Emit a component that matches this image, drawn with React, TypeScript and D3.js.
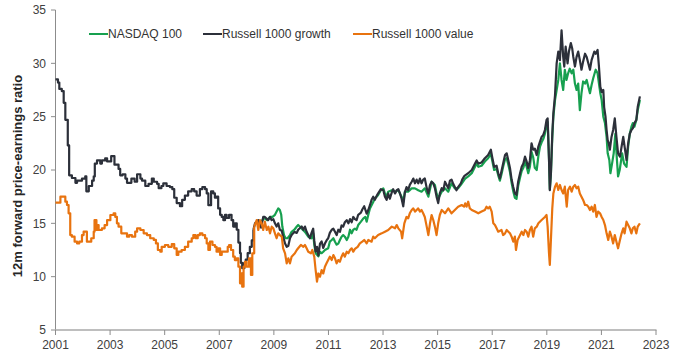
import React from "react";
import * as d3 from "d3";

const yTicks = [5, 10, 15, 20, 25, 30, 35];
const xTicks = [2001, 2003, 2005, 2007, 2009, 2011, 2013, 2015, 2017, 2019, 2021, 2023];
const seriesNames = ["NASDAQ 100", "Russell 1000 growth", "Russell 1000 value"];
const yTitle = "12m forward price-earnings ratio";

const growthData: [number, number][] = [
  [2001.00,28.5],[2001.09,28.2],[2001.14,27.6],[2001.23,27.4],[2001.30,26.3],[2001.36,24.7],[2001.45,22.3],[2001.50,19.5],[2001.60,19.25],[2001.73,18.8],[2001.79,19.0],[2001.97,19.2],[2002.09,19.4],[2002.13,18.0],[2002.22,18.5],[2002.34,19.0],[2002.40,19.4],[2002.44,20.6],[2002.52,20.9],[2002.64,20.6],[2002.70,20.9],[2002.82,21.1],[2002.89,20.8],[2003.04,21.3],[2003.16,20.5],[2003.31,20.1],[2003.37,19.5],[2003.46,19.6],[2003.56,19.2],[2003.62,18.8],[2003.78,19.2],[2003.90,18.9],[2003.99,19.6],[2004.11,19.2],[2004.17,19.0],[2004.29,18.5],[2004.41,18.7],[2004.53,19.2],[2004.60,18.9],[2004.72,18.7],[2004.78,18.3],[2004.88,18.5],[2004.95,18.75],[2005.07,18.5],[2005.19,18.4],[2005.28,18.2],[2005.35,17.4],[2005.44,16.9],[2005.56,16.6],[2005.64,17.2],[2005.74,17.6],[2005.86,18.0],[2005.99,18.2],[2006.08,18.0],[2006.17,17.6],[2006.29,18.2],[2006.38,18.4],[2006.48,18.2],[2006.54,17.8],[2006.60,16.7],[2006.70,18.0],[2006.78,17.8],[2006.84,17.4],[2006.90,17.5],[2006.96,16.4],[2007.03,15.8],[2007.09,15.6],[2007.15,15.3],[2007.21,15.8],[2007.27,15.5],[2007.36,15.8],[2007.45,15.3],[2007.51,14.7],[2007.57,15.0],[2007.64,14.4],[2007.70,13.2],[2007.76,12.2],[2007.79,11.3],[2007.84,10.8],[2007.92,11.3],[2007.97,11.6],[2008.04,12.2],[2008.12,12.8],[2008.19,13.4],[2008.25,14.4],[2008.31,15.0],[2008.43,15.3],[2008.53,14.6],[2008.61,15.6],[2008.67,15.6],[2008.79,15.3],[2008.86,15.6],[2008.92,15.3],[2008.98,15.4],[2009.04,15.0],[2009.10,14.7],[2009.16,15.0],[2009.22,14.4],[2009.29,14.3],[2009.34,13.75],[2009.41,13.1],[2009.47,12.8],[2009.53,12.9],[2009.59,13.6],[2009.65,13.9],[2009.75,14.2],[2009.84,14.1],[2009.89,14.4],[2010.02,14.7],[2010.08,14.4],[2010.14,14.7],[2010.20,14.2],[2010.26,13.9],[2010.32,13.6],[2010.38,14.1],[2010.44,14.5],[2010.48,13.4],[2010.53,12.35],[2010.58,12.8],[2010.63,12.0],[2010.69,13.1],[2010.75,13.3],[2010.81,12.7],[2010.87,13.1],[2010.93,13.4],[2010.99,13.6],[2011.05,14.1],[2011.12,14.4],[2011.18,14.5],[2011.24,14.2],[2011.30,13.9],[2011.36,14.4],[2011.42,14.2],[2011.48,14.8],[2011.54,14.7],[2011.60,15.1],[2011.67,15.3],[2011.73,15.0],[2011.79,15.4],[2011.85,15.1],[2011.91,15.6],[2011.97,15.4],[2012.03,15.3],[2012.09,15.8],[2012.19,16.0],[2012.24,16.3],[2012.31,16.6],[2012.40,15.9],[2012.46,16.25],[2012.52,16.7],[2012.58,17.2],[2012.64,17.5],[2012.70,17.2],[2012.77,17.6],[2012.82,17.8],[2012.92,18.2],[2013.01,18.1],[2013.07,17.5],[2013.13,17.2],[2013.19,17.8],[2013.25,17.3],[2013.32,17.9],[2013.37,18.2],[2013.44,17.8],[2013.50,18.1],[2013.56,18.2],[2013.62,17.8],[2013.68,17.3],[2013.74,16.6],[2013.80,17.9],[2013.86,18.4],[2013.92,18.1],[2013.98,18.6],[2014.05,18.9],[2014.11,19.2],[2014.17,18.75],[2014.23,19.1],[2014.29,18.75],[2014.35,19.2],[2014.41,18.75],[2014.47,19.1],[2014.53,19.2],[2014.60,18.3],[2014.66,17.8],[2014.72,18.6],[2014.78,18.9],[2014.84,18.75],[2014.90,18.3],[2014.96,17.5],[2015.02,16.9],[2015.08,17.8],[2015.15,18.3],[2015.21,18.1],[2015.27,18.9],[2015.33,18.6],[2015.39,18.3],[2015.45,19.0],[2015.51,19.1],[2015.57,18.7],[2015.63,18.4],[2015.69,18.1],[2015.75,18.4],[2015.85,18.75],[2015.90,19.1],[2015.97,19.4],[2016.01,19.5],[2016.12,19.7],[2016.25,20.0],[2016.37,20.6],[2016.43,20.9],[2016.49,20.6],[2016.61,20.7],[2016.73,21.1],[2016.85,21.4],[2016.95,21.9],[2017.00,21.2],[2017.07,20.3],[2017.16,20.4],[2017.22,19.7],[2017.28,19.2],[2017.34,19.9],[2017.40,20.6],[2017.47,21.4],[2017.53,21.56],[2017.59,20.9],[2017.65,20.2],[2017.71,19.1],[2017.77,18.4],[2017.83,17.8],[2017.89,17.66],[2017.95,18.9],[2018.02,19.7],[2018.08,20.3],[2018.14,20.6],[2018.20,21.25],[2018.26,20.8],[2018.32,20.2],[2018.38,20.9],[2018.44,22.5],[2018.50,21.9],[2018.56,22.0],[2018.63,21.4],[2018.69,22.2],[2018.75,22.66],[2018.81,23.1],[2018.87,23.3],[2018.93,23.75],[2018.99,24.7],[2019.03,24.84],[2019.08,21.0],[2019.11,18.1],[2019.15,19.7],[2019.20,23.4],[2019.24,25.3],[2019.30,27.0],[2019.36,30.0],[2019.42,31.1],[2019.48,30.3],[2019.54,33.1],[2019.60,30.6],[2019.64,29.7],[2019.69,31.56],[2019.76,30.0],[2019.81,31.1],[2019.88,31.9],[2019.93,31.4],[2019.97,30.6],[2020.03,29.7],[2020.09,30.6],[2020.15,31.1],[2020.21,30.3],[2020.27,29.4],[2020.33,30.16],[2020.40,30.9],[2020.46,30.6],[2020.52,30.0],[2020.58,29.4],[2020.64,30.3],[2020.74,31.1],[2020.79,30.9],[2020.86,31.25],[2020.91,29.7],[2020.96,27.8],[2021.01,27.3],[2021.07,27.5],[2021.10,25.9],[2021.15,25.0],[2021.19,23.75],[2021.23,22.8],[2021.27,22.5],[2021.31,21.9],[2021.37,23.1],[2021.43,23.75],[2021.49,24.84],[2021.55,23.1],[2021.61,21.56],[2021.68,21.25],[2021.74,22.2],[2021.80,23.1],[2021.85,22.2],[2021.92,20.94],[2021.98,22.5],[2022.04,23.4],[2022.10,23.75],[2022.15,23.9],[2022.21,24.4],[2022.28,24.7],[2022.33,25.9],[2022.41,26.9]
];

const nasdaqData: [number, number][] = [
  [2008.55,15.2],[2008.65,15.5],[2008.75,15.3],[2008.86,15.6],[2008.95,15.6],[2009.04,15.8],[2009.10,16.1],[2009.16,16.4],[2009.22,16.25],[2009.27,15.8],[2009.31,14.7],[2009.37,13.9],[2009.43,13.6],[2009.50,13.6],[2009.59,13.9],[2009.65,14.2],[2009.75,14.4],[2009.84,14.7],[2009.89,14.84],[2009.95,14.7],[2010.02,14.5],[2010.14,14.2],[2010.26,13.75],[2010.38,13.6],[2010.44,14.06],[2010.48,13.0],[2010.53,12.2],[2010.63,11.9],[2010.69,12.34],[2010.75,12.2],[2010.81,12.34],[2010.87,12.5],[2010.99,12.66],[2011.05,13.28],[2011.12,13.44],[2011.18,13.6],[2011.24,13.28],[2011.30,13.0],[2011.36,13.1],[2011.42,13.44],[2011.48,13.75],[2011.54,13.9],[2011.60,13.75],[2011.67,13.44],[2011.73,13.75],[2011.79,14.4],[2011.85,14.06],[2011.91,14.4],[2011.97,14.5],[2012.03,14.4],[2012.09,14.84],[2012.19,15.16],[2012.28,15.47],[2012.35,15.6],[2012.40,15.16],[2012.46,15.8],[2012.52,16.4],[2012.58,16.7],[2012.64,17.0],[2012.70,17.34],[2012.77,17.5],[2012.82,17.66],[2012.92,18.1],[2013.01,18.28],[2013.07,17.8],[2013.13,17.5],[2013.19,17.97],[2013.32,18.1],[2013.44,17.97],[2013.56,18.1],[2013.68,17.5],[2013.74,17.0],[2013.80,17.97],[2013.92,17.97],[2013.98,18.1],[2014.05,18.28],[2014.17,18.28],[2014.29,18.1],[2014.41,17.97],[2014.53,18.28],[2014.66,17.5],[2014.78,18.9],[2014.90,18.6],[2014.96,17.8],[2015.02,17.34],[2015.15,17.97],[2015.27,18.28],[2015.39,17.97],[2015.51,18.75],[2015.63,18.28],[2015.75,18.28],[2015.85,18.6],[2015.97,19.06],[2016.01,19.2],[2016.12,19.4],[2016.25,19.7],[2016.37,20.3],[2016.43,20.6],[2016.49,20.3],[2016.61,20.4],[2016.73,20.8],[2016.85,21.1],[2016.95,21.5],[2017.00,20.9],[2017.07,20.0],[2017.16,20.1],[2017.22,19.5],[2017.28,19.0],[2017.34,19.6],[2017.40,20.3],[2017.47,21.0],[2017.53,21.1],[2017.59,20.5],[2017.65,19.8],[2017.71,18.8],[2017.77,18.0],[2017.83,17.4],[2017.89,17.3],[2017.95,18.5],[2018.02,19.3],[2018.08,19.9],[2018.14,20.2],[2018.20,20.8],[2018.26,20.3],[2018.32,19.7],[2018.38,20.3],[2018.44,21.7],[2018.50,21.2],[2018.56,20.2],[2018.63,20.0],[2018.69,21.3],[2018.75,22.2],[2018.81,22.6],[2018.87,22.9],[2018.93,23.4],[2018.99,24.3],[2019.03,24.5],[2019.08,21.0],[2019.11,18.2],[2019.15,19.6],[2019.20,23.0],[2019.24,25.0],[2019.30,26.56],[2019.42,28.44],[2019.48,30.0],[2019.54,28.44],[2019.60,27.5],[2019.66,29.4],[2019.72,28.44],[2019.78,29.06],[2019.84,29.5],[2019.91,29.06],[2019.97,29.4],[2020.03,28.1],[2020.09,27.5],[2020.15,28.1],[2020.21,25.6],[2020.27,27.2],[2020.33,28.3],[2020.40,28.1],[2020.46,28.44],[2020.52,27.8],[2020.58,27.2],[2020.64,27.97],[2020.70,28.6],[2020.79,29.4],[2020.86,29.06],[2020.91,28.1],[2020.96,27.2],[2021.01,26.56],[2021.07,25.0],[2021.13,24.4],[2021.19,23.1],[2021.23,21.56],[2021.29,20.94],[2021.33,19.7],[2021.39,20.6],[2021.45,21.56],[2021.51,23.4],[2021.57,20.9],[2021.61,19.4],[2021.67,20.0],[2021.76,21.56],[2021.83,20.6],[2021.92,20.3],[2021.98,22.2],[2022.04,23.4],[2022.10,24.06],[2022.15,24.4],[2022.21,24.06],[2022.28,24.7],[2022.33,25.6],[2022.41,26.56]
];

const valueData: [number, number][] = [
  [2001.00,16.94],[2001.18,17.5],[2001.30,17.5],[2001.36,17.03],[2001.42,16.72],[2001.48,15.94],[2001.54,13.9],[2001.60,13.75],[2001.70,13.28],[2001.79,13.12],[2001.87,13.28],[2001.97,13.9],[2002.03,14.22],[2002.09,14.22],[2002.15,13.28],[2002.22,13.28],[2002.31,13.6],[2002.40,14.22],[2002.43,15.3],[2002.50,14.375],[2002.52,14.84],[2002.58,14.375],[2002.70,14.53],[2002.80,14.84],[2002.89,15.3],[2003.01,15.78],[2003.13,15.94],[2003.19,15.6],[2003.25,15.0],[2003.31,14.69],[2003.41,14.06],[2003.50,14.06],[2003.62,13.75],[2003.70,13.9],[2003.80,13.75],[2003.92,14.22],[2003.99,14.53],[2004.11,14.375],[2004.23,14.06],[2004.35,13.9],[2004.47,13.6],[2004.60,13.44],[2004.68,13.12],[2004.75,12.5],[2004.84,12.34],[2004.89,12.8],[2005.01,12.97],[2005.13,12.8],[2005.26,13.06],[2005.35,12.66],[2005.44,12.03],[2005.50,12.34],[2005.62,12.5],[2005.74,12.8],[2005.86,13.28],[2005.99,13.6],[2006.05,13.9],[2006.13,13.6],[2006.21,13.9],[2006.29,14.06],[2006.38,13.9],[2006.48,13.6],[2006.54,13.12],[2006.60,12.5],[2006.66,13.28],[2006.75,12.97],[2006.84,12.8],[2006.90,12.34],[2006.96,12.66],[2007.03,12.03],[2007.09,12.34],[2007.21,12.34],[2007.31,12.8],[2007.36,12.97],[2007.43,12.5],[2007.51,11.875],[2007.57,11.56],[2007.64,11.72],[2007.70,10.94],[2007.76,9.375],[2007.79,10.3],[2007.84,9.06],[2007.89,10.94],[2007.94,11.4],[2008.00,10.94],[2008.09,11.72],[2008.16,10.16],[2008.21,12.19],[2008.28,14.69],[2008.37,15.31],[2008.43,14.375],[2008.49,15.31],[2008.55,15.0],[2008.61,14.375],[2008.67,15.16],[2008.74,14.375],[2008.80,14.69],[2008.86,14.06],[2008.92,14.69],[2008.98,14.53],[2009.04,14.06],[2009.10,13.6],[2009.16,14.06],[2009.22,13.9],[2009.29,13.75],[2009.34,12.66],[2009.41,12.19],[2009.47,11.25],[2009.53,11.72],[2009.59,11.25],[2009.65,11.875],[2009.71,12.03],[2009.77,12.19],[2009.84,12.5],[2009.89,12.66],[2009.99,12.97],[2010.08,12.8],[2010.14,12.97],[2010.20,12.66],[2010.26,12.34],[2010.36,12.19],[2010.41,12.5],[2010.48,11.875],[2010.53,10.625],[2010.58,9.53],[2010.63,10.3],[2010.69,10.0],[2010.75,10.625],[2010.81,10.3],[2010.87,10.94],[2010.93,11.25],[2010.99,11.56],[2011.05,11.875],[2011.12,11.56],[2011.18,12.03],[2011.24,11.72],[2011.30,11.25],[2011.36,11.56],[2011.42,11.4],[2011.48,11.875],[2011.54,12.19],[2011.60,11.875],[2011.67,12.34],[2011.73,12.19],[2011.79,12.5],[2011.85,12.66],[2011.91,12.34],[2011.97,12.6],[2012.07,12.8],[2012.15,13.12],[2012.24,13.28],[2012.31,13.44],[2012.40,13.12],[2012.46,13.44],[2012.58,13.28],[2012.64,13.75],[2012.70,13.6],[2012.82,13.9],[2012.95,14.06],[2013.07,14.22],[2013.19,14.375],[2013.32,14.69],[2013.44,14.53],[2013.50,14.84],[2013.56,14.53],[2013.66,14.22],[2013.70,13.6],[2013.78,15.0],[2013.86,15.6],[2013.92,15.47],[2013.98,15.94],[2014.05,16.25],[2014.11,16.4],[2014.17,16.1],[2014.23,16.25],[2014.29,16.4],[2014.35,16.1],[2014.41,16.25],[2014.47,15.94],[2014.53,15.6],[2014.60,14.69],[2014.66,13.9],[2014.72,15.0],[2014.78,15.78],[2014.84,15.31],[2014.90,14.69],[2014.96,13.9],[2015.02,15.0],[2015.08,15.78],[2015.15,16.25],[2015.27,15.94],[2015.39,16.4],[2015.51,15.94],[2015.63,16.25],[2015.75,16.56],[2015.88,16.72],[2015.97,16.56],[2016.01,16.875],[2016.06,16.56],[2016.12,17.03],[2016.18,16.4],[2016.25,16.25],[2016.37,16.1],[2016.49,15.94],[2016.61,16.1],[2016.73,16.25],[2016.79,16.56],[2016.85,16.4],[2016.91,16.56],[2016.98,16.1],[2017.04,15.0],[2017.10,14.84],[2017.16,14.53],[2017.22,14.22],[2017.34,14.375],[2017.40,13.9],[2017.47,14.06],[2017.53,14.375],[2017.59,14.22],[2017.65,14.06],[2017.71,13.75],[2017.77,13.28],[2017.83,13.75],[2017.87,12.5],[2017.93,13.44],[2018.02,13.9],[2018.08,14.22],[2018.14,13.9],[2018.20,14.375],[2018.26,14.22],[2018.32,13.75],[2018.38,14.375],[2018.44,14.69],[2018.50,13.75],[2018.56,14.53],[2018.63,14.69],[2018.69,15.0],[2018.81,15.31],[2018.93,15.6],[2018.99,15.78],[2019.03,14.69],[2019.08,12.19],[2019.11,11.1],[2019.15,13.44],[2019.20,16.4],[2019.24,17.8],[2019.30,18.44],[2019.36,18.75],[2019.42,18.125],[2019.48,18.6],[2019.54,18.125],[2019.60,17.8],[2019.66,18.44],[2019.73,16.56],[2019.78,18.125],[2019.85,18.44],[2019.91,17.97],[2019.97,18.44],[2020.03,18.6],[2020.09,18.28],[2020.15,18.44],[2020.21,17.8],[2020.27,17.5],[2020.33,17.19],[2020.40,16.72],[2020.46,16.72],[2020.52,16.56],[2020.58,16.25],[2020.64,16.56],[2020.70,16.1],[2020.76,16.72],[2020.82,15.6],[2020.88,16.1],[2020.95,15.94],[2021.01,15.6],[2021.07,15.31],[2021.13,14.84],[2021.19,14.06],[2021.25,13.44],[2021.31,14.22],[2021.37,13.75],[2021.43,13.12],[2021.49,13.9],[2021.55,13.28],[2021.61,12.66],[2021.68,13.44],[2021.74,14.06],[2021.80,14.53],[2021.85,14.06],[2021.92,15.16],[2021.98,14.84],[2022.04,14.53],[2022.10,14.06],[2022.15,14.53],[2022.21,14.69],[2022.28,14.06],[2022.33,14.69],[2022.41,15.0]
];

const colors = ["#17a04f", "#2c303a", "#e8730f"];
const stepUntil = 2008.3;

export default function App() {
  const W = 680, H = 356;
  const x = d3.scaleLinear().domain([2001, 2023]).range([55.5, 656]);
  const y = d3.scaleLinear().domain([5, 35]).range([330, 10]);
  const stepLine = d3
    .line<[number, number]>()
    .x((d) => x(d[0]))
    .y((d) => y(d[1]))
    .curve(d3.curveStepAfter);
  const linLine = d3
    .line<[number, number]>()
    .x((d) => x(d[0]))
    .y((d) => y(d[1]))
    .curve(d3.curveLinear);
  const series = [nasdaqData, growthData, valueData];
  const font = "'Liberation Sans', Arial, sans-serif";
  const legendX = [89, 203, 353];

  const pathFor = (s: [number, number][]) => {
    const early = s.filter((d) => d[0] <= stepUntil);
    const lateStart = Math.max(0, early.length - 1);
    const late = s.slice(lateStart);
    return (early.length > 1 ? stepLine(early) || "" : "") + (linLine(late) || "");
  };

  return (
    <svg width={W} height={H} style={{ position: "absolute", left: 0, top: 0, background: "#fff" }} fontFamily={font}>
      <rect width={W} height={H} fill="#fff" />
      <line x1={55.5} x2={55.5} y1={y(35)} y2={y(5)} stroke="#8c8c8c" strokeWidth={1} />
      {yTicks.map((t) => (
        <g key={t}>
          <line x1={51} x2={55.5} y1={y(t)} y2={y(t)} stroke="#8c8c8c" strokeWidth={1} />
          <text x={46} y={y(t) + 4.3} textAnchor="end" fontSize={12} fill="#404040">
            {t}
          </text>
        </g>
      ))}
      <line x1={55} x2={656.5} y1={y(5)} y2={y(5)} stroke="#a8a8a8" strokeWidth={1.5} />
      {xTicks.map((t) => (
        <g key={t}>
          <line x1={x(t)} x2={x(t)} y1={y(5)} y2={y(5) + 5} stroke="#8c8c8c" strokeWidth={1} />
          <text x={x(t)} y={349} textAnchor="middle" fontSize={12} fill="#404040">
            {t}
          </text>
        </g>
      ))}
      <text
        transform={`translate(22,176) rotate(-90)`}
        textAnchor="middle"
        fontSize={13}
        fontWeight="bold"
        fill="#262626"
      >
        {yTitle}
      </text>
      {series.map((s, i) => (
        <path
          key={i}
          d={pathFor(s)}
          fill="none"
          stroke={colors[i]}
          strokeWidth={2.2}
          strokeLinejoin="round"
        />
      ))}
      {seriesNames.map((n, i) => (
        <g key={n}>
          <line x1={legendX[i]} x2={legendX[i] + 19} y1={34} y2={34} stroke={colors[i]} strokeWidth={2} />
          <text x={legendX[i] + 19} y={38.3} fontSize={12} fill="#333">
            {n}
          </text>
        </g>
      ))}
    </svg>
  );
}
